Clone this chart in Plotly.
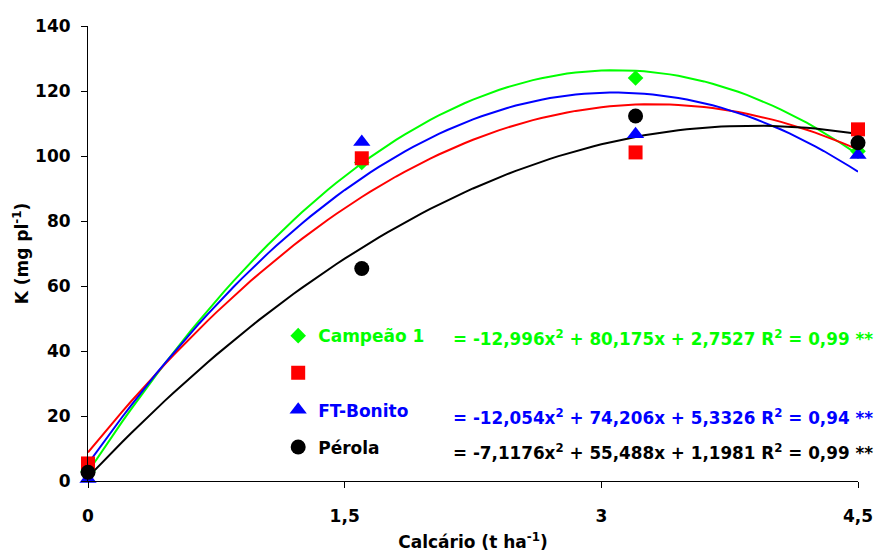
import numpy as np
import plotly.graph_objects as go

# Lime doses (t/ha) and measured K (mg per plant) for each cultivar
doses = [0, 1.6, 3.2, 4.5]
k_campeao = [3.0, 98.0, 124.0, 101.5]
k_red = [5.4, 99.3, 101.1, 108.2]
k_ftbonito = [0.6, 104.3, 106.7, 100.3]
k_perola = [2.7, 65.4, 112.3, 104.1]

# Quadratic trend coefficients (a, b, c) for y = a*x^2 + b*x + c
coef_campeao = [-12.996, 80.175, 2.7527]
coef_red = [-9.8, 64.8, 8.8]
coef_ftbonito = [-12.054, 74.206, 5.3326]
coef_perola = [-7.1176, 55.488, 1.1981]

r2_campeao = "0,99"
r2_ftbonito = "0,94"
r2_perola = "0,99"

x_ticks = [0, 1.5, 3, 4.5]
x_tick_labels = ["0", "1,5", "3", "4,5"]
y_ticks = [0, 20, 40, 60, 80, 100, 120, 140]

GREEN = "#00FF00"
RED = "#FF0000"
BLUE = "#0000FF"
BLACK = "#000000"
FONT = "DejaVu Sans, Arial, sans-serif"


def bold(size, color=BLACK):
    return dict(family=FONT, size=size, color=color, weight="bold")


def fmt(v):
    return str(v).replace(".", ",")


def equation(coef, r2):
    a, b, c = coef
    return (f"= {fmt(a)}x<sup>2</sup> + {fmt(b)}x + {fmt(c)} "
            f"R<sup>2</sup> = {r2} **")


xs = np.linspace(0, 4.5, 91)

fig = go.Figure()

series = [
    ("Campeão 1", GREEN, "diamond", 12, k_campeao, coef_campeao),
    ("", RED, "square", 14, k_red, coef_red),
    ("FT-Bonito", BLUE, "triangle-up", 15, k_ftbonito, coef_ftbonito),
    ("Pérola", BLACK, "circle", 15, k_perola, coef_perola),
]

# trend curves first so the markers sit on top
for name, color, sym, size, ys, coef in series:
    a, b, c = coef
    fig.add_trace(go.Scatter(
        x=xs, y=a * xs ** 2 + b * xs + c, mode="lines",
        line=dict(color=color, width=2), showlegend=False,
        hoverinfo="skip", cliponaxis=False,
    ))

for i, (name, color, sym, size, ys, coef) in enumerate(series):
    label = f"<span style='color:{color}'>{name}</span>" if name else " "
    fig.add_trace(go.Scatter(
        x=doses, y=ys, mode="markers", name=label,
        marker=dict(symbol=sym, size=size, color=color, line=dict(width=0)),
        cliponaxis=False, legendgroup=f"g{i}",
    ))

annotations = []
for coef, r2, color, ypos in [
    (coef_campeao, r2_campeao, GREEN, 0.314),
    (coef_ftbonito, r2_ftbonito, BLUE, 0.141),
    (coef_perola, r2_perola, BLACK, 0.064),
]:
    annotations.append(dict(
        text=equation(coef, r2), xref="paper", yref="paper",
        x=0.4715, y=ypos, xanchor="left", yanchor="middle",
        showarrow=False, font=bold(16.8, color),
    ))

axis_common = dict(
    showline=True, linecolor=BLACK, linewidth=1, mirror=False,
    showgrid=False, zeroline=False, ticks="outside", ticklen=6,
    tickwidth=1, tickcolor=BLACK, automargin=False,
    tickfont=bold(17),
)

fig.update_layout(
    width=879, height=552,
    margin=dict(l=88, r=21, t=26, b=71, autoexpand=False),
    paper_bgcolor="white", plot_bgcolor="white",
    font=dict(family=FONT, size=17, color=BLACK),
    xaxis=dict(
        range=[0, 4.5], tickvals=x_ticks, ticktext=x_tick_labels,
        title=dict(text="Calcário (t ha<sup>-1</sup>)", font=bold(17), standoff=10),
        ticklabelstandoff=14, **axis_common,
    ),
    yaxis=dict(
        range=[0, 140], tickvals=y_ticks,
        title=dict(text="K (mg pl<sup>-1</sup>)", font=bold(17), standoff=2),
        ticklabelstandoff=7, **axis_common,
    ),
    legend=dict(
        x=0.247, y=0.358, xanchor="left", yanchor="top",
        bgcolor="rgba(0,0,0,0)", borderwidth=0,
        font=bold(17), tracegroupgap=12,
        itemclick=False, itemdoubleclick=False,
    ),
    annotations=annotations,
    showlegend=True,
)

fig.write_html("out.html")
